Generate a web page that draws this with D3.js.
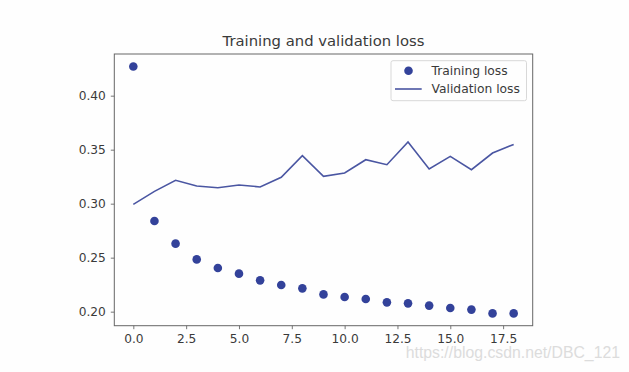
<!DOCTYPE html>
<html><head><meta charset="utf-8">
<script src="https://cdn.jsdelivr.net/npm/d3@7"></script>
<style>
html,body{margin:0;padding:0;background:#fefefe;}
svg{display:block;}
text{font-family:"DejaVu Sans",sans-serif;}
</style></head>
<body><svg id="c" width="629" height="372"></svg>
<script>
const epochs = d3.range(0, 19);
const trainingLoss = [0.427, 0.284, 0.263, 0.2484, 0.2405, 0.2352, 0.229, 0.2247, 0.2216, 0.216, 0.2136, 0.2117, 0.2086, 0.2077, 0.2056, 0.2034, 0.2019, 0.1984, 0.1984];
const validationLoss = [0.2994, 0.3114, 0.3216, 0.3164, 0.3148, 0.3173, 0.3155, 0.3244, 0.3444, 0.3253, 0.3284, 0.3407, 0.3361, 0.3571, 0.3321, 0.3438, 0.3315, 0.3469, 0.3549];
const xTicks = [0, 2.5, 5, 7.5, 10, 12.5, 15, 17.5];
const yTicks = [0.20, 0.25, 0.30, 0.35, 0.40];
const title = "Training and validation loss";
const legendLabels = ["Training loss", "Validation loss"];
const watermark = "https://blog.csdn.net/DBC_121";

const svg = d3.select("#c");
const L = 114.3, R = 532.7, T = 54, B = 325.7;
const x = d3.scaleLinear().domain([-0.9, 18.9]).range([L, R]);
const y = d3.scaleLinear().domain([0.187, 0.4386]).range([B, T]);
const dotColor = "#33429a", lineColor = "#4a56a2", txt = "#3a3a3a", axc = "#666";

// axes
const xa = svg.append("g").attr("transform", `translate(0,${B})`)
  .call(d3.axisBottom(x).tickValues(xTicks).tickFormat(d3.format(".1f")).tickSizeInner(3.5).tickSizeOuter(0).tickPadding(5));
const ya = svg.append("g").attr("transform", `translate(${L},0)`)
  .call(d3.axisLeft(y).tickValues(yTicks).tickFormat(d3.format(".2f")).tickSizeInner(3.5).tickSizeOuter(0).tickPadding(5));
[xa, ya].forEach(g => {
  g.select(".domain").remove();
  g.selectAll("line").attr("stroke", axc).attr("stroke-width", 0.9);
  g.selectAll("text").attr("fill", txt).style("font-size", "12.2px").style("font-family", "DejaVu Sans");
});
svg.append("rect").attr("x", L).attr("y", T).attr("width", R - L).attr("height", B - T)
  .attr("fill", "none").attr("stroke", axc).attr("stroke-width", 1);

// validation line
svg.append("path").datum(epochs)
  .attr("fill", "none").attr("stroke", lineColor).attr("stroke-width", 1.6)
  .attr("d", d3.line().x(i => x(i)).y(i => y(validationLoss[i])));
// training dots
svg.append("g").selectAll("circle").data(epochs).join("circle")
  .attr("cx", i => x(i)).attr("cy", i => y(trainingLoss[i])).attr("r", 4.3).attr("fill", dotColor);

// title
svg.append("text").attr("x", (L + R) / 2).attr("y", 46).attr("text-anchor", "middle")
  .attr("fill", txt).style("font-size", "14.8px").text(title);

// legend
const lg = svg.append("g");
lg.append("rect").attr("x", 391).attr("y", 60.7).attr("width", 135.5).attr("height", 40)
  .attr("rx", 2).attr("fill", "#fefefe").attr("stroke", "#d8d8d8").attr("stroke-width", 1);
lg.append("circle").attr("cx", 408.5).attr("cy", 70.8).attr("r", 4.3).attr("fill", dotColor);
lg.append("line").attr("x1", 395).attr("x2", 421.7).attr("y1", 89).attr("y2", 89)
  .attr("stroke", lineColor).attr("stroke-width", 1.6);
lg.append("text").attr("x", 431.5).attr("y", 75).attr("fill", txt).style("font-size", "12.3px").text(legendLabels[0]);
lg.append("text").attr("x", 431.5).attr("y", 92.8).attr("fill", txt).style("font-size", "12.3px").text(legendLabels[1]);

// watermark
svg.append("text").attr("x", 620).attr("y", 358).attr("text-anchor", "end")
  .attr("fill", "#dcdcdc").style("font-family", "Liberation Sans, Arial, sans-serif").style("font-size", "15.8px").text(watermark);
</script></body></html>
